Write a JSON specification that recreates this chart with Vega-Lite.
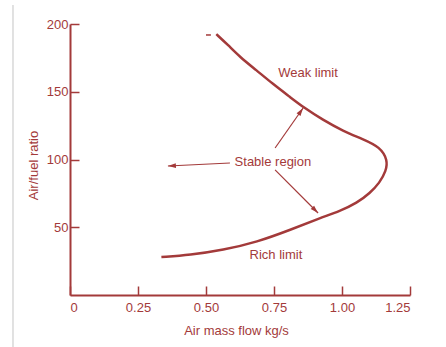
{
  "$schema": "https://vega.github.io/schema/vega-lite/v6.json",
  "width": 340,
  "height": 271,
  "autosize": {"type": "none"},
  "padding": {"left": 70, "top": 24, "right": 36, "bottom": 52},
  "background": "white",
  "config": {
    "view": {"stroke": null},
    "font": "Liberation Sans",
    "axis": {
      "domainColor": "#a33a3a",
      "domainWidth": 2,
      "tickColor": "#a33a3a",
      "tickWidth": 1.5,
      "tickSize": -9,
      "labelColor": "#a33a3a",
      "labelFont": "Liberation Sans",
      "labelFontSize": 13,
      "titleColor": "#a33a3a",
      "titleFont": "Liberation Sans",
      "titleFontSize": 13,
      "titleFontWeight": "normal",
      "grid": false
    }
  },
  "datasets": {
    "curve": [
      {"x": 0.538, "y": 192.5},
      {"x": 0.581, "y": 184.5},
      {"x": 0.625, "y": 175.6},
      {"x": 0.684, "y": 166.1},
      {"x": 0.746, "y": 155.7},
      {"x": 0.809, "y": 146.1},
      {"x": 0.857, "y": 138.7},
      {"x": 0.930, "y": 129.2},
      {"x": 1.004, "y": 121.0},
      {"x": 1.077, "y": 115.1},
      {"x": 1.140, "y": 109.2},
      {"x": 1.168, "y": 99.6},
      {"x": 1.162, "y": 91.5},
      {"x": 1.138, "y": 82.7},
      {"x": 1.103, "y": 75.3},
      {"x": 1.055, "y": 67.9},
      {"x": 0.993, "y": 62.0},
      {"x": 0.919, "y": 56.8},
      {"x": 0.809, "y": 48.0},
      {"x": 0.688, "y": 39.1},
      {"x": 0.563, "y": 33.2},
      {"x": 0.441, "y": 29.5},
      {"x": 0.336, "y": 28.0}
    ],
    "dash": [
      {"x": 0.500, "y": 191.9},
      {"x": 0.518, "y": 191.9}
    ],
    "arrows": [
      {"id": "weak", "x": 0.754, "y": 108.5},
      {"id": "weak", "x": 0.857, "y": 138.0},
      {"id": "left", "x": 0.588, "y": 97.4},
      {"id": "left", "x": 0.360, "y": 95.2},
      {"id": "rich", "x": 0.754, "y": 92.3},
      {"id": "rich", "x": 0.912, "y": 60.5}
    ],
    "heads": [
      {"id": "weak", "x": 0.857, "y": 138.0},
      {"id": "left", "x": 0.360, "y": 95.2},
      {"id": "rich", "x": 0.912, "y": 60.5}
    ],
    "labels": [
      {"label": "Weak limit", "x": 0.875, "y": 163.8},
      {"label": "Stable region", "x": 0.746, "y": 98.2},
      {"label": "Rich limit", "x": 0.757, "y": 29.5}
    ],
    "border": [
      {"x": -0.2096, "y": 214, "y2": -38.5}
    ]
  },
  "encoding": {
    "x": {
      "field": "x",
      "type": "quantitative",
      "scale": {"domain": [0, 1.25], "nice": false, "zero": false},
      "axis": {
        "title": "Air mass flow kg/s",
        "values": [0, 0.25, 0.5, 0.75, 1.0, 1.25],
        "labelExpr": "datum.value == 0 ? '0' : format(datum.value, '.2f')",
        "labelPadding": 15,
        "titleX": 166,
        "titleY": 35,
        "titleBaseline": "middle"
      }
    },
    "y": {
      "field": "y",
      "type": "quantitative",
      "scale": {"domain": [0, 200], "nice": false, "zero": false},
      "axis": {
        "title": "Air/fuel ratio",
        "values": [50, 100, 150, 200],
        "labelPadding": 11,
        "titleX": -37,
        "titleY": 141,
        "titleBaseline": "middle"
      }
    }
  },
  "layer": [
    {
      "data": {"name": "border"},
      "mark": {"type": "rule", "color": "#c4c4c4", "strokeWidth": 1},
      "encoding": {"y2": {"field": "y2"}}
    },
    {
      "data": {"name": "curve"},
      "mark": {"type": "line", "color": "#a33a3a", "strokeWidth": 2.5, "interpolate": "basis"},
      "encoding": {"order": {"value": null}}
    },
    {
      "data": {"name": "dash"},
      "mark": {"type": "line", "color": "#a33a3a", "strokeWidth": 1.5},
      "encoding": {}
    },
    {
      "data": {"name": "arrows"},
      "mark": {"type": "line", "color": "#a33a3a", "strokeWidth": 1.2},
      "encoding": {"detail": {"field": "id"}, "order": {"value": null}}
    },
    {
      "data": {"name": "heads"},
      "transform": [{"filter": "datum.id == 'weak'"}],
      "mark": {"type": "point", "shape": "M0,0L-0.6,2L0.6,2Z", "size": 64, "filled": true, "color": "#a33a3a", "opacity": 1, "angle": 35},
      "encoding": {}
    },
    {
      "data": {"name": "heads"},
      "transform": [{"filter": "datum.id == 'left'"}],
      "mark": {"type": "point", "shape": "M0,0L-0.6,2L0.6,2Z", "size": 64, "filled": true, "color": "#a33a3a", "opacity": 1, "angle": 267},
      "encoding": {}
    },
    {
      "data": {"name": "heads"},
      "transform": [{"filter": "datum.id == 'rich'"}],
      "mark": {"type": "point", "shape": "M0,0L-0.6,2L0.6,2Z", "size": 64, "filled": true, "color": "#a33a3a", "opacity": 1, "angle": 135},
      "encoding": {}
    },
    {
      "data": {"name": "labels"},
      "mark": {"type": "text", "color": "#a33a3a", "font": "Liberation Sans", "fontSize": 13, "align": "center", "baseline": "middle"},
      "encoding": {"text": {"field": "label"}}
    }
  ]
}
